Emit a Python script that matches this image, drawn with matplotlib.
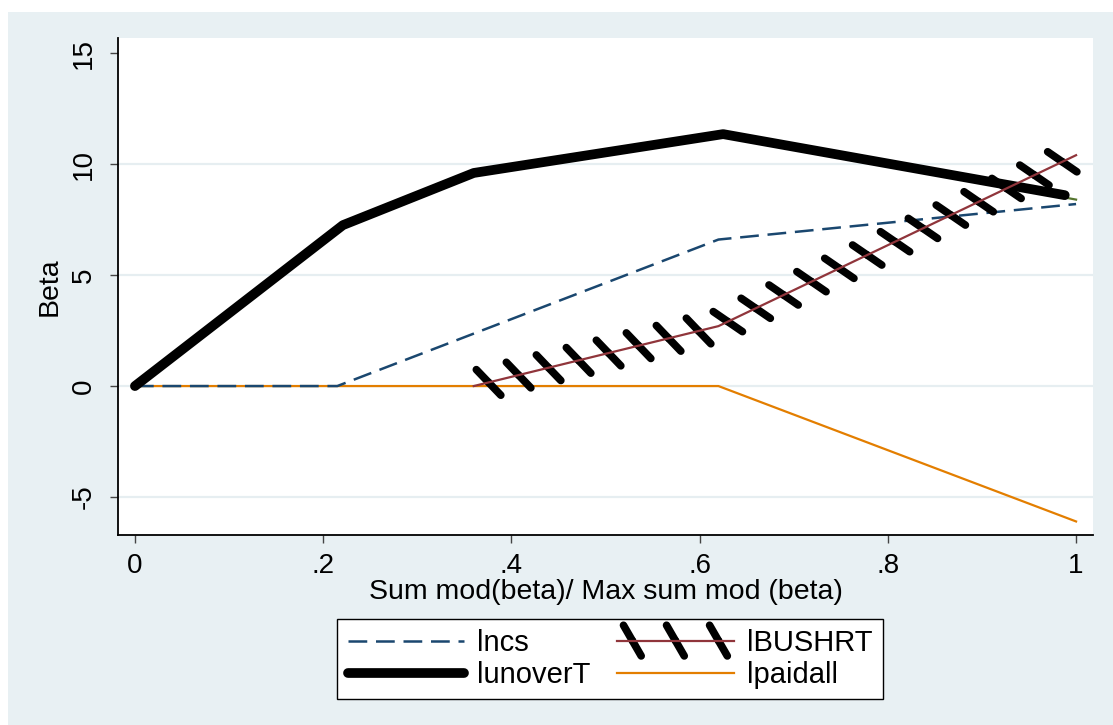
import matplotlib
matplotlib.use("Agg")
from matplotlib import pyplot as plt
from matplotlib import patheffects as pe
from matplotlib.patches import Rectangle

plt.rcParams['font.family'] = ['Liberation Sans', 'DejaVu Sans']
plt.rcParams['axes.unicode_minus'] = False

# series
ncs_x = [0.0, 0.215, 0.62, 1.0]
ncs_y = [0.0, 0.0, 6.6, 8.2]
bushrt_x = [0.36, 0.62, 1.0]
bushrt_y = [0.0, 2.7, 10.4]
unover_x = [0.0, 0.221, 0.36, 0.625, 0.988]
unover_y = [0.0, 7.25, 9.6, 11.35, 8.6]
green_x = [0.0, 0.221, 0.36, 0.625, 1.0]
green_y = [0.0, 7.25, 9.6, 11.35, 8.4]
paid_x = [0.0, 0.62, 1.0]
paid_y = [0.0, 0.0, -6.1]

xticks = [0, 0.2, 0.4, 0.6, 0.8, 1.0]
xtick_labels = ['0', '.2', '.4', '.6', '.8', '1']
yticks = [-5, 0, 5, 10, 15]
grid_vals = [-5, 0, 5, 10]

bg = '#e8f0f3'
fig = plt.figure(figsize=(11.13, 7.25), dpi=100)
fig.patch.set_facecolor('white')
fig.add_artist(Rectangle((8 / 1113, 0), 1, (725 - 12) / 725, transform=fig.transFigure,
                         facecolor=bg, edgecolor='none', zorder=-10))

ax = fig.add_axes([118 / 1113, (725 - 535) / 725, (1093 - 118) / 1113, (535 - 38) / 725])
ax.set_facecolor('white')
for y in grid_vals:
    ax.axhline(y, color='#e6eef1', lw=1.6, zorder=0)

ax.plot(paid_x, paid_y, color='#e37e00', lw=1.6, label='lpaidall', zorder=2)
ax.plot(ncs_x, ncs_y, color='#1a476f', lw=1.8, dashes=(7.5, 3.5), label='lncs', zorder=3)
ax.plot(green_x, green_y, color='#55752f', lw=1.6, zorder=3)
ax.plot(unover_x, unover_y, color='black', lw=7, solid_capstyle='round',
        solid_joinstyle='round', label='lunoverT', zorder=4)
ticks = dict(spacing=22, length=0.58, linewidth=5.5, foreground='black', capstyle='round')
ax.plot(bushrt_x, bushrt_y, color='#90353b', lw=1.6, label='lBUSHRT', zorder=5,
        path_effects=[pe.TickedStroke(angle=-60, **ticks),
                      pe.TickedStroke(angle=120, **ticks),
                      pe.Normal()])

ax.set_xlim(-0.018, 1.018)
ax.set_ylim(-6.71, 15.68)
ax.set_xticks(xticks)
ax.set_xticklabels(xtick_labels)
ax.set_yticks(yticks)
for lab in ax.get_yticklabels():
    lab.set_rotation(90)
    lab.set_va('center')
ax.tick_params(axis='both', labelsize=20, length=6, width=1, color='#444444', direction='out')
ax.tick_params(axis='x', pad=7)
ax.tick_params(axis='y', pad=9)
for s in ['top', 'right']:
    ax.spines[s].set_visible(False)
for s in ['left', 'bottom']:
    ax.spines[s].set_linewidth(1.3)

ax.set_xlabel('Sum mod(beta)/ Max sum mod (beta)', fontsize=20.5, labelpad=0)
ax.set_ylabel('Beta', fontsize=20.5, labelpad=6)

h, l = ax.get_legend_handles_labels()
order = ['lncs', 'lunoverT', 'lBUSHRT', 'lpaidall']
hs = [h[l.index(k)] for k in order]
leg = fig.legend(hs, order, loc='center', bbox_to_anchor=(610 / 1113, (725 - 659) / 725),
                 ncol=2, fontsize=21, frameon=True, fancybox=False, framealpha=1,
                 edgecolor='black', handlelength=4.0, handletextpad=0.45,
                 columnspacing=0.9, borderpad=0.35, labelspacing=0.15)
leg.get_frame().set_linewidth(1.0)

fig.savefig('out.png', dpi=100, facecolor=fig.get_facecolor())
